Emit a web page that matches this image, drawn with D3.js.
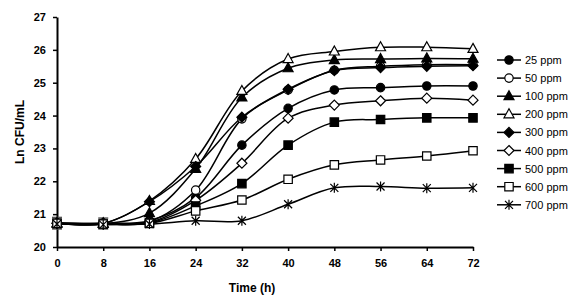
<!DOCTYPE html>
<html lang="en">
<head>
<meta charset="UTF-8">
<script src="https://cdn.jsdelivr.net/npm/d3@7/dist/d3.min.js"></script>
<title>growth</title>
<style>
  body { margin: 0; background: #fff; }
  text { font-family: "Liberation Sans", Arial, sans-serif; }
</style>
</head>
<body>
<script>
// data
const time = [0, 8, 16, 24, 32, 40, 48, 56, 64, 72]
const s25  = [20.72, 20.72, 20.80, 21.50, 23.10, 24.22, 24.78, 24.85, 24.90, 24.90]
const s50  = [20.72, 20.72, 20.78, 21.73, 23.90, 24.78, 25.38, 25.50, 25.55, 25.55]
const s100 = [20.72, 20.70, 21.03, 22.38, 24.55, 25.44, 25.69, 25.72, 25.74, 25.73]
const s200 = [20.72, 20.72, 21.40, 22.68, 24.75, 25.72, 25.95, 26.08, 26.08, 26.03]
const s300 = [20.72, 20.72, 21.38, 22.45, 23.95, 24.80, 25.37, 25.46, 25.50, 25.52]
const s400 = [20.72, 20.70, 20.75, 21.42, 22.55, 23.92, 24.32, 24.45, 24.53, 24.47]
const s500 = [20.72, 20.70, 20.73, 21.25, 21.93, 23.10, 23.80, 23.88, 23.93, 23.93]
const s600 = [20.72, 20.70, 20.72, 21.10, 21.43, 22.06, 22.50, 22.65, 22.77, 22.93]
const s700 = [20.70, 20.68, 20.70, 20.80, 20.80, 21.30, 21.80, 21.84, 21.79, 21.80]
const names = ["25 ppm", "50 ppm", "100 ppm", "200 ppm", "300 ppm", "400 ppm", "500 ppm", "600 ppm", "700 ppm"]
const markers = ["circle", "circle", "triangle", "triangle", "diamond", "diamond", "square", "square", "star"]
const filled = [true, false, true, false, true, false, true, false, false]
const allSeries = [s25, s50, s100, s200, s300, s400, s500, s600, s700]
// error bars seen at the start (time, low, high)
const errTime = [0, 8]
const errLow = [20.55, 20.55]
const errHigh = [20.90, 20.88]
const xTicks = [0, 8, 16, 24, 32, 40, 48, 56, 64, 72]
const yTicks = [20, 21, 22, 23, 24, 25, 26, 27]

const width = 580, height = 301
const svg = d3.select("body").append("svg").attr("width", width).attr("height", height)

const xScale = d3.scaleLinear().domain([0, 72]).range([57, 473])
const yScale = d3.scaleLinear().domain([20, 27]).range([247, 17])

// axes
const xAxis = d3.axisBottom(xScale).tickValues(xTicks).tickSize(4).tickPadding(8).tickSizeOuter(0)
const yAxis = d3.axisLeft(yScale).tickValues(yTicks).tickFormat(d3.format("d")).tickSize(4).tickPadding(7).tickSizeOuter(0)

const gx = svg.append("g").attr("transform", "translate(0,247)").call(xAxis)
const gy = svg.append("g").attr("transform", "translate(57,0)").call(yAxis)
;[gx, gy].forEach(g => {
  g.select(".domain").attr("stroke", "#000").attr("stroke-width", 2)
  g.selectAll(".tick line").attr("stroke", "#000").attr("stroke-width", 1.5)
  g.selectAll(".tick text").attr("fill", "#000").attr("font-size", 11).attr("font-weight", "bold")
    .attr("font-family", "Liberation Sans, Arial, sans-serif")
})

// axis titles
svg.append("text").attr("x", 252).attr("y", 292).attr("text-anchor", "middle")
  .attr("font-size", 12).attr("font-weight", "bold").text("Time (h)")
svg.append("text").attr("transform", "translate(24,132) rotate(-90)").attr("text-anchor", "middle")
  .attr("font-size", 12).attr("font-weight", "bold").text("Ln CFU/mL")

// marker shapes
function markerPath(type) {
  if (type === "circle") return d3.symbol(d3.symbolCircle, 55)()
  if (type === "triangle") return "M0,-5.5L5,3.5L-5,3.5Z"
  if (type === "diamond") return "M0,-5L5,0L0,5L-5,0Z"
  if (type === "square") return "M-4.2,-4.2H4.2V4.2H-4.2Z"
  return "M-4,-4L4,4M-4,4L4,-4M0,-5V5"
}
function drawMarker(g, type, fill, x, y) {
  g.append("path").attr("d", markerPath(type))
    .attr("transform", `translate(${x},${y})`)
    .attr("fill", type === "star" ? "none" : (fill ? "#000" : "#fff"))
    .attr("stroke", "#000").attr("stroke-width", 1.2)
}

// error bars
errTime.forEach((t, i) => {
  const x = xScale(t)
  svg.append("line").attr("x1", x).attr("x2", x).attr("y1", yScale(errLow[i])).attr("y2", yScale(errHigh[i]))
    .attr("stroke", "#000").attr("stroke-width", 1)
  ;[errLow[i], errHigh[i]].forEach(v => {
    svg.append("line").attr("x1", x - 5).attr("x2", x + 5).attr("y1", yScale(v)).attr("y2", yScale(v))
      .attr("stroke", "#555").attr("stroke-width", 1.5)
  })
})

// lines
const line = d3.line().x((d, i) => xScale(time[i])).y(d => yScale(d)).curve(d3.curveCatmullRom.alpha(0.5))
allSeries.forEach(s => {
  svg.append("path").attr("d", line(s)).attr("fill", "none").attr("stroke", "#000").attr("stroke-width", 1.5)
})

// markers
allSeries.forEach((s, k) => {
  const g = svg.append("g")
  s.forEach((v, i) => drawMarker(g, markers[k], filled[k], xScale(time[i]), yScale(v)))
})

// legend
const legend = svg.append("g")
names.forEach((n, k) => {
  const y = 60 + k * 18.1
  legend.append("line").attr("x1", 497).attr("x2", 521).attr("y1", y).attr("y2", y)
    .attr("stroke", "#000").attr("stroke-width", 1.5)
  drawMarker(legend, markers[k], filled[k], 509, y)
  legend.append("text").attr("x", 525).attr("y", y + 4).attr("font-size", 11).attr("fill", "#000").text(n)
})
</script>
</body>
</html>
